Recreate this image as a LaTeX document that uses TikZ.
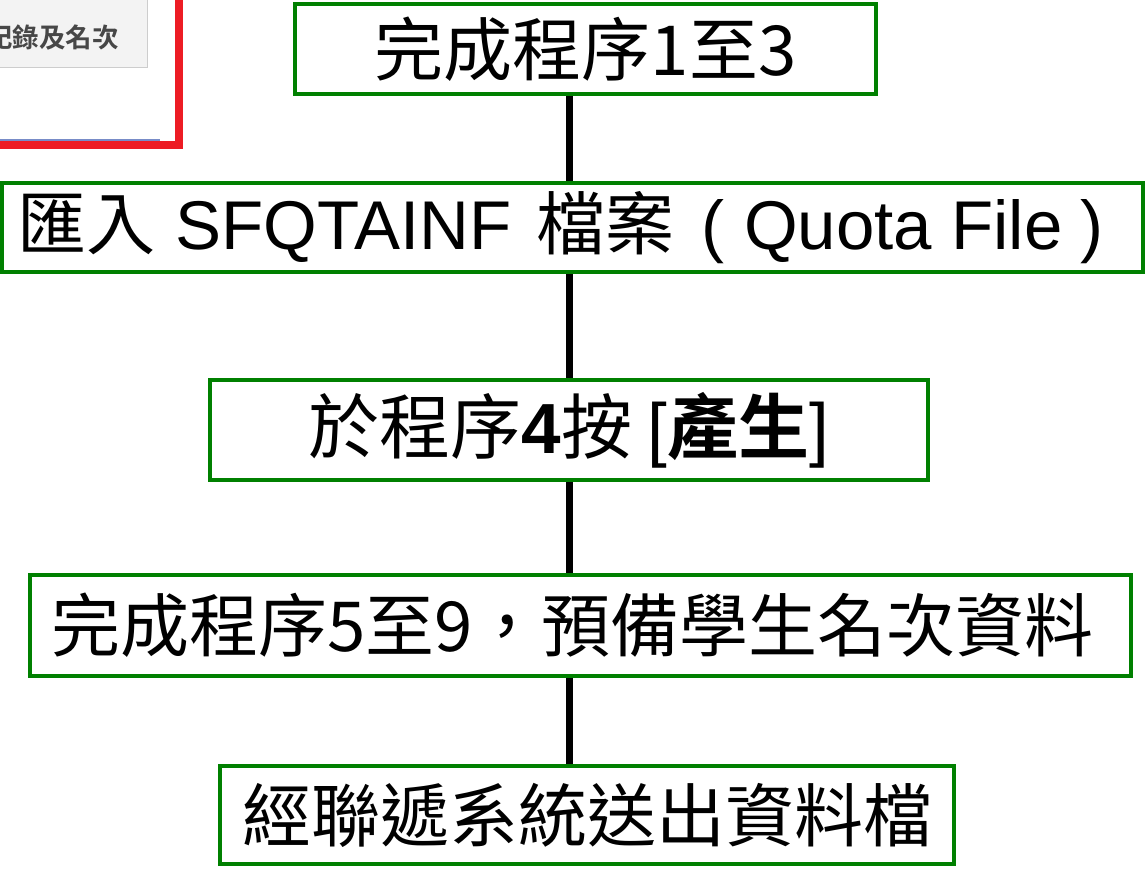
\documentclass[tikz,border=0pt]{standalone}
\usepackage{fontspec}
\setmainfont{Liberation Sans}
\newfontfamily\cjk{Noto Sans CJK TC}
\newfontfamily\cjkb{Noto Sans CJK TC Bold}
\definecolor{boxgreen}{RGB}{0,128,0}
\definecolor{markred}{RGB}{237,28,36}
\definecolor{uiblue}{RGB}{120,140,200}
\definecolor{btngray}{RGB}{243,243,243}
\definecolor{btnedge}{RGB}{205,205,205}
\begin{document}
\begin{tikzpicture}[x=1pt,y=-1pt,
  stepbox/.style={draw=boxgreen, line width=4pt, fill=white, inner sep=0pt,
    font=\fontsize{69}{69}\selectfont\cjk},
  conn/.style={draw=black, line width=7pt}]
\useasboundingbox (0,0) rectangle (1145,871);
% screenshot fragment top-left
\fill[btngray] (-5,-5) rectangle (147,67);
\draw[btnedge, line width=1pt] (147,-5) -- (147,67) -- (-5,67);
\node[anchor=east, inner sep=0pt, text=black!72, font=\fontsize{26.5}{26.5}\selectfont\cjkb] (btn) at (119,37) {紀錄及名次};
\draw[uiblue, line width=2pt] (-5,140) -- (160,140);
\draw[markred, line width=8pt] (179,-5) -- (179,145) -- (-5,145);
% flow boxes
\coordinate (cx) at (569,0);
\node[stepbox, minimum width=581, minimum height=90] (b1) at (585.5,49) {完成程序1至3};
\node[stepbox, minimum width=1141, minimum height=89] (b2) at (572.5,227.5)
  {匯入\hspace{20pt}{\rmfamily SFQTAINF}\hspace{25pt}檔案{\rmfamily\hspace{27pt}(\hspace{20pt}Quota File\hspace{18pt})}\hspace{24pt}\null};
\node[stepbox, minimum width=718, minimum height=100] (b3) at (569,430)
  {\fontsize{71}{71}\selectfont 於程序{\rmfamily\bfseries 4}按 {\rmfamily[}{\cjkb 產生}{\rmfamily]}};
\node[stepbox, minimum width=1101, minimum height=101] (b4) at (580.5,625.5)
  {完成程序5至9，預備學生名次資料\hspace{16pt}\null};
\node[stepbox, minimum width=734, minimum height=98] (b5) at (587,815)
  {經聯遞系統送出資料檔};
\draw[conn] (b1.south -| cx) -- (b2.north -| cx);
\draw[conn] (b2.south -| cx) -- (b3.north -| cx);
\draw[conn] (b3.south -| cx) -- (b4.north -| cx);
\draw[conn] (b4.south -| cx) -- (b5.north -| cx);
\end{tikzpicture}
\end{document}
